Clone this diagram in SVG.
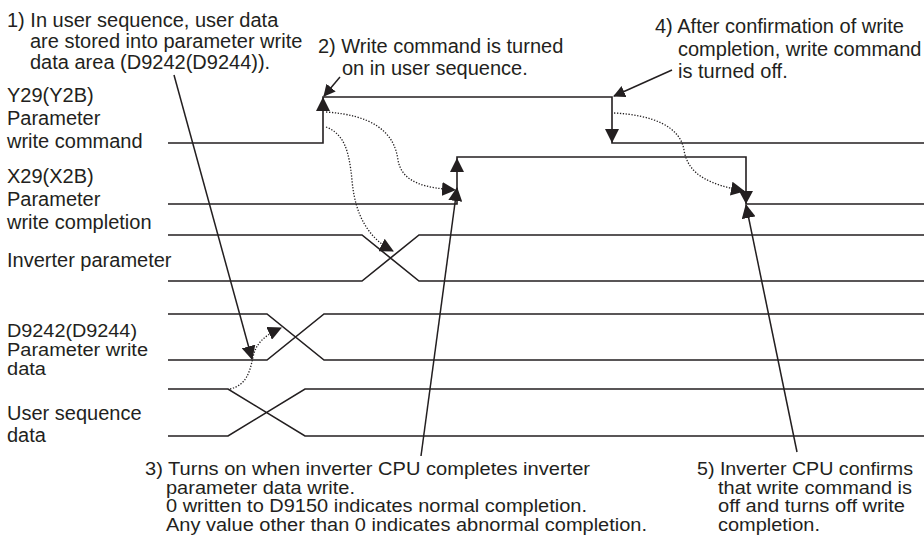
<svg xmlns="http://www.w3.org/2000/svg" width="924" height="550" viewBox="0 0 924 550">
<defs>
<style>
text{font-family:"Liberation Sans",Arial,sans-serif;font-size:20px;fill:#231f20}
text.sq{font-size:17.5px}
.sig{fill:none;stroke:#231f20;stroke-width:1.6}
.con{fill:none;stroke:#231f20;stroke-width:1.5}
.dot{fill:none;stroke:#231f20;stroke-width:1.3;stroke-dasharray:1.3 1.6}
.hd{fill:#231f20;stroke:none}
</style>
<marker id="ah" markerUnits="userSpaceOnUse" viewBox="0 0 14 14" markerWidth="14" markerHeight="14" refX="13" refY="7" orient="auto">
<path d="M0,0 L14,7 L0,14 z" fill="#231f20"/>
</marker>
<marker id="ahs" markerUnits="userSpaceOnUse" viewBox="0 0 12 12" markerWidth="12" markerHeight="12" refX="11" refY="6" orient="auto">
<path d="M0,0 L12,6 L0,12 z" fill="#231f20"/>
</marker>
</defs>
<rect width="924" height="550" fill="#fff"/>

<g id="note1">
<text x="7" y="27">1) In user sequence, user data</text>
<text x="30" y="48">are stored into parameter write</text>
<text x="30" y="69">data area (D9242(D9244)).</text>
</g>
<g id="note2">
<text x="318" y="53">2) Write command is turned</text>
<text x="342" y="75">on in user sequence.</text>
</g>
<g id="note4">
<text x="655" y="33">4) After confirmation of write</text>
<text x="678" y="56">completion, write command</text>
<text x="678" y="78">is turned off.</text>
</g>
<g id="note3">
<text class="sq" x="145" y="475" textLength="445" lengthAdjust="spacingAndGlyphs">3) Turns on when inverter CPU completes inverter</text>
<text class="sq" x="166" y="493.7" textLength="189" lengthAdjust="spacingAndGlyphs">parameter data write.</text>
<text class="sq" x="166" y="512.4" textLength="421" lengthAdjust="spacingAndGlyphs">0 written to D9150 indicates normal completion.</text>
<text class="sq" x="166" y="531.1" textLength="481" lengthAdjust="spacingAndGlyphs">Any value other than 0 indicates abnormal completion.</text>
</g>
<g id="note5">
<text class="sq" x="697" y="475" textLength="216" lengthAdjust="spacingAndGlyphs">5) Inverter CPU confirms</text>
<text class="sq" x="718" y="493.7" textLength="194" lengthAdjust="spacingAndGlyphs">that write command is</text>
<text class="sq" x="718" y="512.4" textLength="187" lengthAdjust="spacingAndGlyphs">off and turns off write</text>
<text class="sq" x="718" y="531.1" textLength="102" lengthAdjust="spacingAndGlyphs">completion.</text>
</g>

<g id="sig-y29">
<text x="7" y="102">Y29(Y2B)</text>
<text x="7" y="125">Parameter</text>
<text x="7" y="148">write command</text>
<path class="sig" d="M168,143 H323 V97 H612 V143 H924"/>
</g>
<g id="sig-x29">
<text x="7" y="183">X29(X2B)</text>
<text x="7" y="206">Parameter</text>
<text x="7" y="229">write completion</text>
<path class="sig" d="M168,204 H457 V157 H746 V204 H924"/>
</g>
<g id="sig-inv">
<text x="7" y="267">Inverter parameter</text>
<path class="sig" d="M168,235 H362 L419,281 H924 M168,281 H362 L419,235 H924"/>
</g>
<g id="sig-d9242">
<text class="sq" x="7" y="337" textLength="130" lengthAdjust="spacingAndGlyphs">D9242(D9244)</text>
<text class="sq" x="7" y="356" textLength="141" lengthAdjust="spacingAndGlyphs">Parameter write</text>
<text class="sq" x="7" y="375" textLength="39" lengthAdjust="spacingAndGlyphs">data</text>
<path class="sig" d="M168,314 H267 L324,360 H924 M168,360 H267 L324,314 H924"/>
</g>
<g id="sig-user">
<text x="7" y="420">User sequence</text>
<text x="7" y="442">data</text>
<path class="sig" d="M168,389 H228 L305,436 H924 M168,436 H228 L305,389 H924"/>
</g>

<g id="connectors">
<path class="hd" d="M323,97 L330,111 L316,111 z"/>
<path class="hd" d="M612,143 L605,129 L619,129 z"/>
<path class="hd" d="M457,158 L464,172 L450,172 z"/>
<path class="hd" d="M746,204 L739,191 L753,191 z"/>
<path class="con" d="M174,75 L252,359" marker-end="url(#ah)"/>
<path class="con" d="M340,77 L324,96" marker-end="url(#ahs)"/>
<path class="con" d="M672,70 L614,96" marker-end="url(#ahs)"/>
<path class="con" d="M421,456 L457,188" marker-end="url(#ah)"/>
<path class="con" d="M797,452 L746,205" marker-end="url(#ah)"/>
<path class="dot" d="M326,112 C370,115 394,130 398,160 C402,184 428,188 455,190" marker-end="url(#ah)"/>
<path class="dot" d="M326,127 C344,134 349,150 352,180 C355,215 368,238 393,251" marker-end="url(#ah)"/>
<path class="dot" d="M614,113 C652,115 680,126 684,150 C688,176 712,185 744,191" marker-end="url(#ah)"/>
<path class="dot" d="M230,389 C247,385 250,371 253,357 C256,344 263,336 281,328" marker-end="url(#ah)"/>
</g>
</svg>
